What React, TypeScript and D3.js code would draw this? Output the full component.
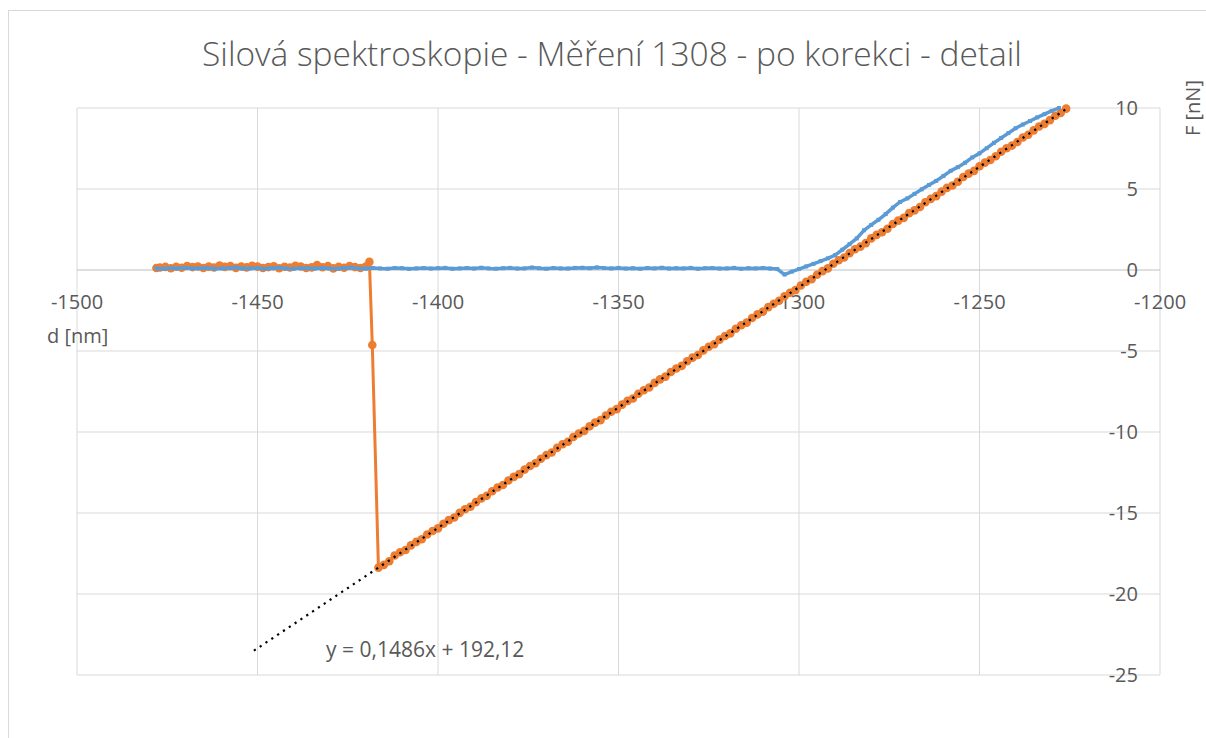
import React from "react";
import * as d3 from "d3";

const TITLE = "Silová spektroskopie - Měření 1308 - po korekci - detail";
const X_TITLE = "d [nm]";
const Y_TITLE = "F [nN]";
const X_TICKS = [-1500, -1450, -1400, -1350, -1300, -1250, -1200];
const Y_TICKS = [10, 5, 0, -5, -10, -15, -20, -25];

// trendline coefficients (linear fit of retract slope)
const TREND_SLOPE = 0.1486;
const TREND_INTERCEPT = 192.12;
const TREND_X = [-1451, -1226];
const TREND_LABEL = "y = 0,1486x + 192,12";
const TREND_LABEL_POS = [-1431, -23.9];

// approach curve (blue)
const approach: [number, number][] = [
  [-1478, 0.1], [-1476, 0.08], [-1474, 0.12], [-1472, 0.1], [-1470, 0.14], [-1468, 0.09], [-1466, 0.11], [-1464, 0.13],
  [-1462, 0.08], [-1460, 0.1], [-1458, 0.12], [-1456, 0.15], [-1454, 0.09], [-1452, 0.1], [-1450, 0.12], [-1448, 0.08],
  [-1446, 0.11], [-1444, 0.14], [-1442, 0.1], [-1440, 0.07], [-1438, 0.12], [-1436, 0.11], [-1434, 0.09], [-1432, 0.13],
  [-1430, 0.1], [-1428, 0.08], [-1426, 0.12], [-1424, 0.15], [-1422, 0.1], [-1420, 0.09], [-1418, 0.13], [-1416, 0.1],
  [-1414, 0.08], [-1412, 0.12], [-1410, 0.11], [-1408, 0.07], [-1406, 0.1], [-1404, 0.12], [-1402, 0.09], [-1400, 0.11],
  [-1398, 0.13], [-1396, 0.08], [-1394, 0.1], [-1392, 0.12], [-1390, 0.09], [-1388, 0.14], [-1386, 0.1], [-1384, 0.08],
  [-1382, 0.11], [-1380, 0.13], [-1378, 0.09], [-1376, 0.1], [-1374, 0.15], [-1372, 0.11], [-1370, 0.08], [-1368, 0.12],
  [-1366, 0.1], [-1364, 0.09], [-1362, 0.13], [-1360, 0.14], [-1358, 0.11], [-1356, 0.16], [-1354, 0.12], [-1352, 0.1],
  [-1350, 0.13], [-1348, 0.09], [-1346, 0.11], [-1344, 0.08], [-1342, 0.12], [-1340, 0.1], [-1338, 0.14], [-1336, 0.09],
  [-1334, 0.11], [-1332, 0.1], [-1330, 0.13], [-1328, 0.08], [-1326, 0.11], [-1324, 0.12], [-1322, 0.09], [-1320, 0.1],
  [-1318, 0.13], [-1316, 0.08], [-1314, 0.11], [-1312, 0.1], [-1310, 0.12], [-1308, 0.09], [-1306, 0.06],
  [-1304, -0.28], [-1302, -0.1], [-1300, 0.06], [-1298, 0.22], [-1296, 0.38], [-1294, 0.55], [-1292, 0.72], [-1290, 0.92],
  [-1288, 1.25], [-1286, 1.6], [-1284, 1.95], [-1282, 2.45], [-1280, 2.78], [-1278, 3.1], [-1276, 3.45], [-1274, 3.85],
  [-1272, 4.2], [-1270, 4.42], [-1268, 4.7], [-1266, 4.98], [-1264, 5.25], [-1262, 5.5], [-1260, 5.8], [-1258, 6.12],
  [-1256, 6.35], [-1254, 6.62], [-1252, 6.95], [-1250, 7.2], [-1248, 7.52], [-1246, 7.85], [-1244, 8.15], [-1242, 8.45],
  [-1240, 8.75], [-1238, 8.98], [-1236, 9.2], [-1234, 9.42], [-1232, 9.62], [-1230, 9.82], [-1228, 10.0],
];

// retract curve (orange)
const retract: [number, number][] = [
  [-1226, 9.96], [-1227.5, 9.7], [-1229, 9.52], [-1230.5, 9.25], [-1232, 9.02], [-1233.5, 8.86], [-1235, 8.62], [-1236.5, 8.35],
  [-1238, 8.18], [-1239.5, 7.9], [-1241, 7.68], [-1242.5, 7.52], [-1244, 7.3], [-1245.5, 7.02], [-1247, 6.79], [-1248.5, 6.63],
  [-1250, 6.4], [-1251.5, 6.12], [-1253, 5.95], [-1254.5, 5.74], [-1256, 5.45], [-1257.5, 5.22], [-1259, 5.07], [-1260.5, 4.84],
  [-1262, 4.56], [-1263.5, 4.39], [-1265, 4.18], [-1266.5, 3.89], [-1268, 3.68], [-1269.5, 3.51], [-1271, 3.22], [-1272.5, 3.05],
  [-1274, 2.84], [-1275.5, 2.55], [-1277, 2.33], [-1278.5, 2.17], [-1280, 1.95], [-1281.5, 1.66], [-1283, 1.44], [-1284.5, 1.28],
  [-1286, 1.04], [-1287.5, 0.77], [-1289, 0.6], [-1290.5, 0.39], [-1292, 0.1], [-1293.5, -0.07], [-1295, -0.29], [-1296.5, -0.57],
  [-1298, -0.73], [-1299.5, -0.96], [-1301, -1.24], [-1302.5, -1.4], [-1304, -1.62], [-1305.5, -1.9], [-1307, -2.08], [-1308.5, -2.29],
  [-1310, -2.57], [-1311.5, -2.74], [-1313, -2.96], [-1314.5, -3.25], [-1316, -3.41], [-1317.5, -3.63], [-1319, -3.91], [-1320.5, -4.07],
  [-1322, -4.3], [-1323.5, -4.58], [-1325, -4.74], [-1326.5, -4.96], [-1328, -5.25], [-1329.5, -5.41], [-1331, -5.63], [-1332.5, -5.92],
  [-1334, -6.08], [-1335.5, -6.3], [-1337, -6.58], [-1338.5, -6.75], [-1340, -6.97], [-1341.5, -7.25], [-1343, -7.42], [-1344.5, -7.64],
  [-1346, -7.93], [-1347.5, -8.08], [-1349, -8.31], [-1350.5, -8.59], [-1352, -8.75], [-1353.5, -8.98], [-1355, -9.27], [-1356.5, -9.42],
  [-1358, -9.65], [-1359.5, -9.93], [-1361, -10.09], [-1362.5, -10.31], [-1364, -10.6], [-1365.5, -10.76], [-1367, -10.98], [-1368.5, -11.27],
  [-1370, -11.43], [-1371.5, -11.65], [-1373, -11.93], [-1374.5, -12.1], [-1376, -12.32], [-1377.5, -12.6], [-1379, -12.77], [-1380.5, -12.99],
  [-1382, -13.27], [-1383.5, -13.43], [-1385, -13.66], [-1386.5, -13.94], [-1388, -14.1], [-1389.5, -14.33], [-1391, -14.61], [-1392.5, -14.77],
  [-1394, -14.99], [-1395.5, -15.28], [-1397, -15.44], [-1398.5, -15.66], [-1400, -15.95], [-1401.5, -16.11], [-1403, -16.33], [-1404.5, -16.62],
  [-1406, -16.78], [-1407.5, -17.0], [-1409, -17.28], [-1410.5, -17.42], [-1412, -17.62], [-1413.5, -17.98], [-1415, -18.2], [-1416.5, -18.37],
  [-1418.2, -4.63], [-1419, 0.5],
  [-1420, 0.22], [-1421.5, 0.12], [-1423, 0.18], [-1424.5, 0.25], [-1426, 0.14], [-1427.5, 0.2], [-1429, 0.1], [-1430.5, 0.24],
  [-1432, 0.17], [-1433.5, 0.3], [-1435, 0.16], [-1436.5, 0.12], [-1438, 0.22], [-1439.5, 0.26], [-1441, 0.15], [-1442.5, 0.2],
  [-1444, 0.11], [-1445.5, 0.23], [-1447, 0.18], [-1448.5, 0.12], [-1450, 0.21], [-1451.5, 0.26], [-1453, 0.16], [-1454.5, 0.22],
  [-1456, 0.13], [-1457.5, 0.24], [-1459, 0.19], [-1460.5, 0.27], [-1462, 0.15], [-1463.5, 0.21], [-1465, 0.12], [-1466.5, 0.22],
  [-1468, 0.18], [-1469.5, 0.25], [-1471, 0.14], [-1472.5, 0.2], [-1474, 0.11], [-1475.5, 0.19], [-1477, 0.15], [-1478, 0.12],
];

const W = 1206;
const H = 738;
const TEXT = "#595959";
const GRID = "#d9d9d9";
const BLUE = "#5B9BD5";
const ORANGE = "#ED7D31";
const FONT = "'Open Sans', sans-serif";

export default function App() {
  const x = d3.scaleLinear().domain([-1500, -1200]).range([77, 1160]);
  const y = d3.scaleLinear().domain([-25, 10]).range([675, 108]);
  const line = d3
    .line<[number, number]>()
    .x((d) => x(d[0]))
    .y((d) => y(d[1]));
  const trend: [number, number][] = TREND_X.map((v) => [v, TREND_SLOPE * v + TREND_INTERCEPT]);

  return (
    <svg
      width={W}
      height={H}
      style={{ position: "absolute", left: 0, top: 0, background: "#fff" }}
      fontFamily={FONT}
    >
      <rect x={0} y={0} width={W} height={H} fill="#fff" />
      <rect x={8.5} y={10.5} width={W + 20} height={H + 20} fill="none" stroke={GRID} strokeWidth={1} />
      <text x={612} y={66} textAnchor="middle" fontSize={33.5} fill={TEXT} fontWeight={300}>
        {TITLE}
      </text>
      {/* gridlines */}
      {X_TICKS.map((t) => (
        <line key={"gx" + t} x1={x(t)} x2={x(t)} y1={y(10)} y2={y(-25)} stroke={GRID} strokeWidth={1} />
      ))}
      {Y_TICKS.map((t) => (
        <line key={"gy" + t} x1={x(-1500)} x2={x(-1200)} y1={y(t)} y2={y(t)} stroke={t === 0 ? "#bfbfbf" : GRID} strokeWidth={1} />
      ))}
      {/* tick labels */}
      {X_TICKS.map((t) => (
        <text key={"tx" + t} x={x(t)} y={y(0) + 39} textAnchor="middle" fontSize={20} fill={TEXT}>
          {"-" + Math.abs(t)}
        </text>
      ))}
      {Y_TICKS.map((t) => (
        <text key={"ty" + t} x={x(-1200) - 22} y={y(t) + 7} textAnchor="end" fontSize={20} fill={TEXT}>
          {t < 0 ? "-" + Math.abs(t) : String(t)}
        </text>
      ))}
      <text x={47} y={y(0) + 73} fontSize={20} fill={TEXT}>
        {X_TITLE}
      </text>
      <text transform={`translate(${1200},${y(10)}) rotate(-90)`} textAnchor="middle" fontSize={20} fill={TEXT}>
        {Y_TITLE}
      </text>
      {/* retract series */}
      <path d={line(retract) || ""} fill="none" stroke={ORANGE} strokeWidth={3} strokeLinejoin="round" />
      {retract.map((d, i) => (
        <circle key={"r" + i} cx={x(d[0])} cy={y(d[1])} r={4.3} fill={ORANGE} />
      ))}
      {/* approach series */}
      <path d={line(approach) || ""} fill="none" stroke={BLUE} strokeWidth={3.5} strokeLinejoin="round" />
      {approach.map((d, i) => (
        <rect key={"a" + i} x={x(d[0]) - 2} y={y(d[1]) - 2} width={4} height={4} fill={BLUE} />
      ))}
      {/* trendline */}
      <path d={line(trend) || ""} fill="none" stroke="#000" strokeWidth={2.2} strokeDasharray="2.2 4.8" />
      <text x={x(TREND_LABEL_POS[0])} y={y(TREND_LABEL_POS[1])} fontSize={21} fill={TEXT}>
        {TREND_LABEL}
      </text>
    </svg>
  );
}
